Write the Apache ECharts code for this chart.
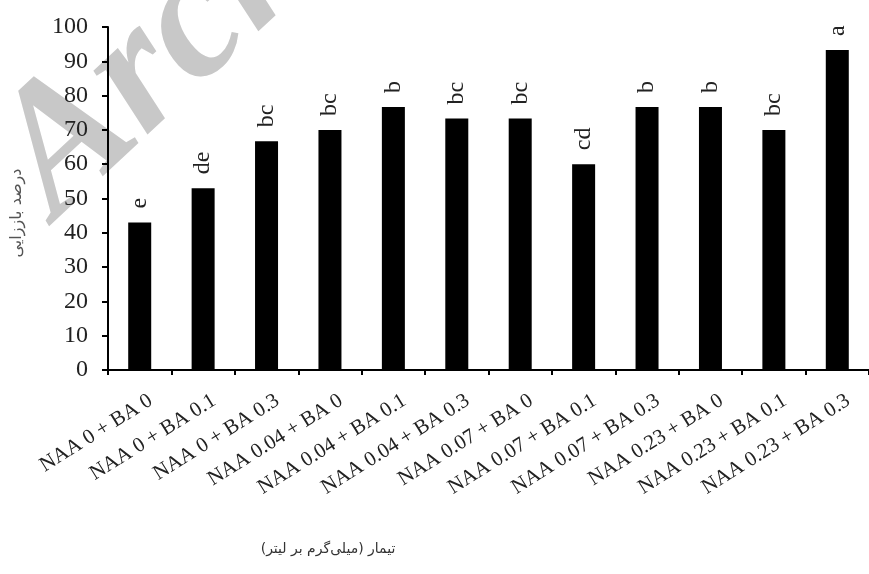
<!DOCTYPE html>
<html>
<head>
<meta charset="utf-8">
<script src="https://cdn.jsdelivr.net/npm/echarts@6/dist/echarts.min.js"></script>
<style>html,body{margin:0;padding:0;background:#fff}#c{width:869px;height:574px}</style>
</head>
<body>
<div id="c"></div>
<script>
const categories = ['NAA 0 + BA 0','NAA 0 + BA 0.1','NAA 0 + BA 0.3','NAA 0.04 + BA 0','NAA 0.04 + BA 0.1','NAA 0.04 + BA 0.3','NAA 0.07 + BA 0','NAA 0.07 + BA 0.1','NAA 0.07 + BA 0.3','NAA 0.23 + BA 0','NAA 0.23 + BA 0.1','NAA 0.23 + BA 0.3'];
const regeneration = [43, 53, 66.7, 70, 76.7, 73.3, 73.3, 60, 76.7, 76.7, 70, 93.3];
const letters = ['e','de','bc','bc','b','bc','bc','cd','b','b','bc','a'];
const yTicks = [0,10,20,30,40,50,60,70,80,90,100];
const yTitle = 'درصد باززایی';
const xTitle = 'تیمار (میلی‌گرم بر لیتر)';

const chart = echarts.init(document.getElementById('c'));
chart.setOption({
  animation: false,
  backgroundColor: '#fff',
  graphic: [
    {
      type: 'text', z: -10, x: 86, y: 252,
      rotation: 43 * Math.PI / 180,
      style: { text: 'Archive of SID', font: 'italic bold 182px "Liberation Serif", serif', fill: '#c8c8c8', verticalAlign: 'bottom' }
    },
    {
      type: 'text', x: 328, y: 549,
      style: { text: xTitle, font: '14px "DejaVu Sans", sans-serif', fill: '#333', align: 'center', verticalAlign: 'middle' }
    },
    {
      type: 'text', x: 17, y: 213, rotation: Math.PI / 2,
      style: { text: yTitle, font: '16px "DejaVu Sans", sans-serif', fill: '#555', align: 'center', verticalAlign: 'middle' }
    }
  ],
  grid: { left: 108, top: 27, width: 766, height: 343, containLabel: false },
  xAxis: {
    type: 'category',
    data: categories,
    axisLine: { lineStyle: { color: '#000', width: 2 } },
    axisTick: { show: true, alignWithLabel: false, length: 5, lineStyle: { color: '#000', width: 2 } },
    axisLabel: { rotate: 32, interval: 0, margin: 36, padding: [0, -13, 0, 0], color: '#222', fontFamily: 'Liberation Serif', fontSize: 21 }
  },
  yAxis: {
    type: 'value', min: yTicks[0], max: yTicks[yTicks.length-1], interval: 10,
    splitLine: { show: false },
    axisLine: { show: true, lineStyle: { color: '#000', width: 2 } },
    axisTick: { show: true, length: 6, lineStyle: { color: '#000', width: 2 } },
    axisLabel: { margin: 20, color: '#222', fontFamily: 'Liberation Serif', fontSize: 24 }
  },
  series: [{
    type: 'bar',
    data: regeneration,
    barWidth: 23,
    itemStyle: { color: '#000' },
    label: {
      show: true, position: 'top', rotate: 90, align: 'left', verticalAlign: 'middle', distance: 14,
      formatter: p => letters[p.dataIndex],
      color: '#222', fontFamily: 'Liberation Serif', fontSize: 24
    }
  }]
});
</script>
</body>
</html>
